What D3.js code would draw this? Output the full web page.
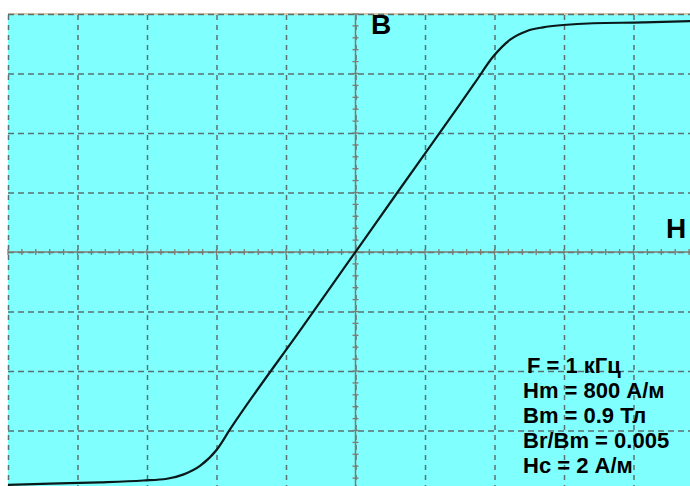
<!DOCTYPE html>
<html>
<head>
<meta charset="utf-8">
<script src="https://cdn.jsdelivr.net/npm/d3@7"></script>
<style>
body { margin: 0; background: #fff; }
text { font-family: "Liberation Sans", Arial, sans-serif; font-weight: bold; }
</style>
</head>
<body>
<div id="chart"></div>
<script>
// magnetization curve, H in A/m, B in T
var hValues = [-800, -703, -588, -489, -434, -397, -358, -319, -289, -121, -1,
  96, 241, 275, 317, 356, 395, 432, 478, 547, 662, 770, 800];
var bValues = [-0.908, -0.903, -0.898, -0.891, -0.884, -0.868, -0.834, -0.770, -0.692, -0.290, -0.002,
  0.231, 0.578, 0.660, 0.762, 0.828, 0.862, 0.876, 0.885, 0.892, 0.895, 0.900, 0.902];

var infoLines = ["F = 1 кГц", "Hm = 800 А/м", "Bm = 0.9 Тл", "Br/Bm = 0.005", "Hc = 2 А/м"];
var axisLabels = {x: "H", y: "B"};

// screen: 10 x 8 divisions
var hMax = 800, hDiv = 160;
var bMax = 0.928, bDiv = 0.232;

var width = 690, height = 486;
var screen = {left: 8, top: 14, right: 703, bottom: 490};

var x = d3.scaleLinear().domain([-hMax, hMax]).range([screen.left, screen.right]);
var y = d3.scaleLinear().domain([-bMax, bMax]).range([screen.bottom, screen.top]);

var svg = d3.select("#chart").append("svg")
  .attr("width", width)
  .attr("height", height);

svg.append("rect")
  .attr("x", screen.left)
  .attr("y", screen.top)
  .attr("width", screen.right - screen.left)
  .attr("height", screen.bottom - screen.top)
  .attr("fill", "#80ffff");

// top border
svg.append("line")
  .attr("x1", screen.left).attr("x2", width)
  .attr("y1", screen.top).attr("y2", screen.top)
  .attr("stroke", "#d6c8a8")
  .attr("stroke-width", 2);

// grid (dashed)
var gridColor = "#587272";
var xTicks = d3.range(-hMax, hMax + 1, hDiv);
var yTicks = d3.range(-4, 5).map(function(d) { return d * bDiv; });

var xGrid = d3.axisBottom(x)
  .tickValues(xTicks)
  .tickSize(-(screen.bottom - screen.top))
  .tickFormat("");
var yGrid = d3.axisLeft(y)
  .tickValues(yTicks)
  .tickSize(-(screen.right - screen.left))
  .tickFormat("");

svg.append("g")
  .attr("class", "grid")
  .attr("transform", "translate(0," + screen.bottom + ")")
  .call(xGrid)
  .call(function(g) { g.select(".domain").remove(); })
  .selectAll("line")
  .attr("stroke", gridColor)
  .attr("stroke-width", 1.5)
  .attr("stroke-dasharray", "5,5");

svg.append("g")
  .attr("class", "grid")
  .attr("transform", "translate(" + screen.left + ",0)")
  .call(yGrid)
  .call(function(g) { g.select(".domain").remove(); })
  .selectAll("line")
  .attr("stroke", gridColor)
  .attr("stroke-width", 1.5)
  .attr("stroke-dasharray", "6,4");

// center axes with minor ticks
var axisColor = "#7f7a72";
svg.append("line")
  .attr("x1", screen.left).attr("x2", screen.right)
  .attr("y1", y(0)).attr("y2", y(0))
  .attr("stroke", axisColor).attr("stroke-width", 1.5);
svg.append("line")
  .attr("x1", x(0)).attr("x2", x(0))
  .attr("y1", screen.top).attr("y2", screen.bottom)
  .attr("stroke", axisColor).attr("stroke-width", 1.5);

svg.selectAll(".hminor")
  .data(d3.range(-hMax, hMax + 1, hDiv / 5))
  .enter().append("line")
  .attr("class", "hminor")
  .attr("x1", function(d) { return x(d); })
  .attr("x2", function(d) { return x(d); })
  .attr("y1", y(0) - 3)
  .attr("y2", y(0) + 3)
  .attr("stroke", axisColor)
  .attr("stroke-width", 1.3);

svg.selectAll(".bminor")
  .data(d3.range(-20, 21).map(function(d) { return d * bDiv / 5; }))
  .enter().append("line")
  .attr("class", "bminor")
  .attr("x1", x(0) - 3)
  .attr("x2", x(0) + 3)
  .attr("y1", function(d) { return y(d); })
  .attr("y2", function(d) { return y(d); })
  .attr("stroke", axisColor)
  .attr("stroke-width", 1.3);

// curve
var line = d3.line()
  .x(function(d, i) { return x(hValues[i]); })
  .y(function(d, i) { return y(bValues[i]); })
  .curve(d3.curveMonotoneX);

svg.append("path")
  .datum(hValues)
  .attr("fill", "none")
  .attr("stroke", "#0a1a1a")
  .attr("stroke-width", 2.2)
  .attr("d", line);

// axis names
svg.append("text")
  .attr("x", 371)
  .attr("y", 34)
  .attr("font-size", 28)
  .attr("fill", "#000")
  .text(axisLabels.y);

svg.append("text")
  .attr("x", 666)
  .attr("y", 238)
  .attr("font-size", 28)
  .attr("fill", "#000")
  .text(axisLabels.x);

// parameters
svg.selectAll(".info")
  .data(infoLines)
  .enter().append("text")
  .attr("class", "info")
  .attr("x", function(d, i) { return i == 0 ? 527 : 523; })
  .attr("y", function(d, i) { return 373 + i * 25; })
  .attr("font-size", 22)
  .attr("fill", "#000")
  .text(function(d) { return d; });
</script>
</body>
</html>
